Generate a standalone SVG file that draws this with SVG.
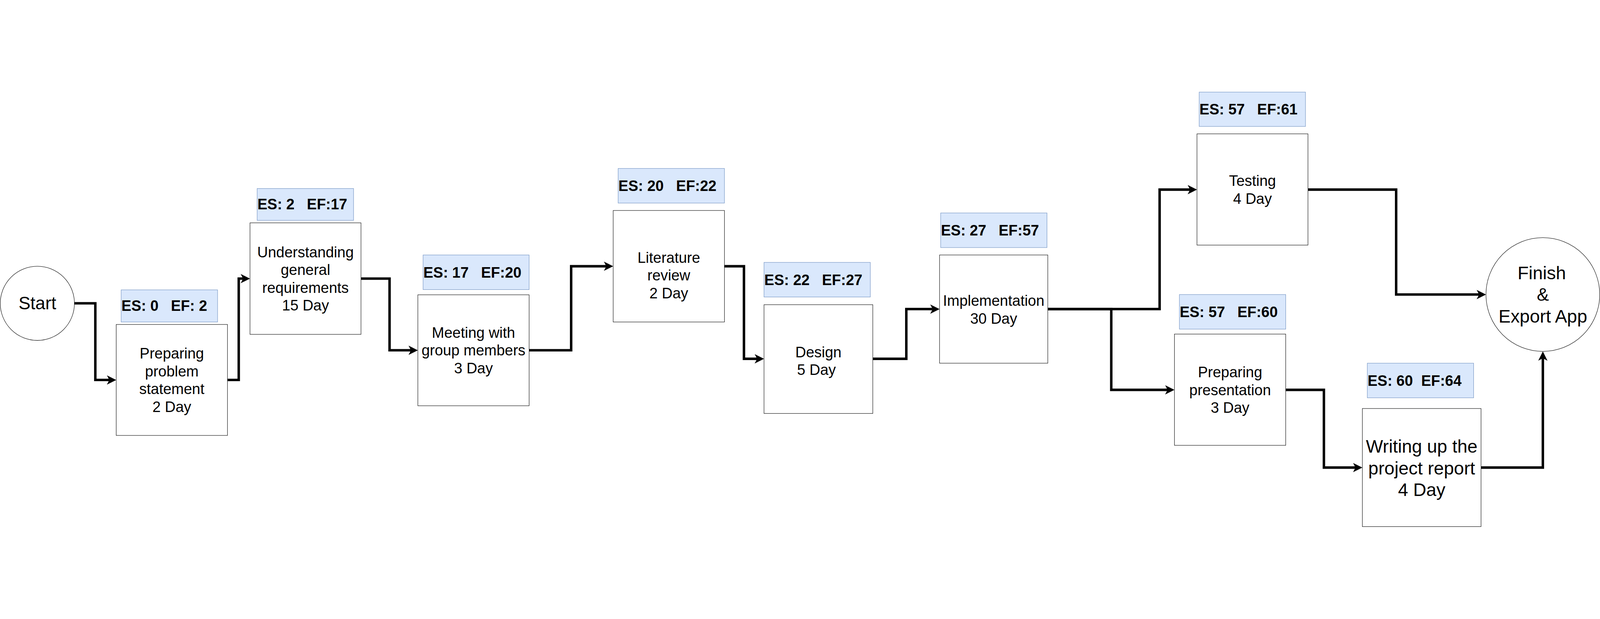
<svg xmlns="http://www.w3.org/2000/svg" width="5824" height="1585" viewBox="0 0 5824 1585" preserveAspectRatio="xMidYMid meet" style="width:100%;height:100%;max-width:5824px;max-height:1585px">
<style>
  .box { fill: #ffffff; stroke: #000000; stroke-width: 1.5; }
  .es { fill: #dae8fc; stroke: #6c8ebf; stroke-width: 1.5; }
  .t { font-family: "Liberation Sans", Arial, sans-serif; font-size: 54px; fill: #000000; text-anchor: middle; }
  .big { font-size: 66px; }
  .est { font-family: "Liberation Sans", Arial, sans-serif; font-size: 54px; font-weight: bold; fill: #000000; text-anchor: start; }
  .edge { fill: none; stroke: #000000; stroke-width: 9; stroke-linejoin: miter; stroke-linecap: butt; marker-end: url(#arr); }
</style>
<defs>
  <marker id="arr" markerUnits="userSpaceOnUse" markerWidth="36" markerHeight="36" viewBox="0 0 36 36" refX="9" refY="17" orient="auto">
    <path d="M 34 17 L 0 0 L 9 17 L 0 34 Z" fill="#000000"/>
  </marker>
</defs>
<rect x="0" y="0" width="5824" height="1585" fill="#ffffff"/>

<g id="connectors">
  <path class="edge" d="M 270 770 H 347 V 1049 H 398"/>
  <path class="edge" d="M 828 1049 H 869 V 680 H 885"/>
  <path class="edge" d="M 1314 680 H 1418 V 941 H 1496"/>
  <path class="edge" d="M 1926 941 H 2079 V 635 H 2207"/>
  <path class="edge" d="M 2637 635 H 2708 V 972 H 2756"/>
  <path class="edge" d="M 3177 972 H 3299 V 791 H 3395"/>
  <path class="edge" d="M 3814 791 H 4221 V 356 H 4332"/>
  <path class="edge" d="M 3814 791 H 4045 V 1085 H 4250"/>
  <path class="edge" d="M 4761 356 H 5082 V 738 H 5384"/>
  <path class="edge" d="M 4680 1085 H 4819 V 1368 H 4934"/>
  <path class="edge" d="M 5391 1368 H 5616 V 970"/>
</g>

<g id="start">
  <circle cx="136" cy="770" r="135" class="box"/>
  <text class="t big" x="136" y="792" style="font-size:65px">Start</text>
</g>

<g id="es1">
  <rect class="es" x="441" y="721" width="351" height="117"/>
  <text class="est" x="442" y="797" xml:space="preserve">ES: 0   EF: 2</text>
</g>
<g id="task1">
  <rect class="box" x="423" y="847" width="405" height="404"/>
  <text class="t" x="625.5" y="971">Preparing</text>
  <text class="t" x="625.5" y="1036">problem</text>
  <text class="t" x="625.5" y="1101">statement</text>
  <text class="t" x="625.5" y="1166">2 Day</text>
</g>

<g id="es2">
  <rect class="es" x="936" y="352" width="351" height="116"/>
  <text class="est" x="937" y="428" xml:space="preserve">ES: 2   EF:17</text>
</g>
<g id="task2">
  <rect class="box" x="910" y="477" width="404" height="406"/>
  <text class="t" x="1112" y="602">Understanding</text>
  <text class="t" x="1112" y="667">general</text>
  <text class="t" x="1112" y="732">requirements</text>
  <text class="t" x="1112" y="796">15 Day</text>
</g>

<g id="es3">
  <rect class="es" x="1540" y="594" width="386" height="126"/>
  <text class="est" x="1541" y="676" xml:space="preserve">ES: 17   EF:20</text>
</g>
<g id="task3">
  <rect class="box" x="1521" y="739" width="405" height="404"/>
  <text class="t" x="1723.5" y="895">Meeting with</text>
  <text class="t" x="1723.5" y="960">group members</text>
  <text class="t" x="1723.5" y="1025">3 Day</text>
</g>

<g id="es4">
  <rect class="es" x="2250" y="279" width="387" height="126"/>
  <text class="est" x="2251" y="361" xml:space="preserve">ES: 20   EF:22</text>
</g>
<g id="task4">
  <rect class="box" x="2232" y="432" width="405" height="406"/>
  <text class="t" x="2434.5" y="622">Literature</text>
  <text class="t" x="2434.5" y="687">review</text>
  <text class="t" x="2434.5" y="752">2 Day</text>
</g>

<g id="es5">
  <rect class="es" x="2781" y="621" width="387" height="126"/>
  <text class="est" x="2782" y="703" xml:space="preserve">ES: 22   EF:27</text>
</g>
<g id="task5">
  <rect class="box" x="2781" y="775" width="396" height="396"/>
  <text class="t" x="2979" y="966">Design</text>
  <text class="t" x="2972" y="1030">5 Day</text>
</g>

<g id="es6">
  <rect class="es" x="3424" y="441" width="387" height="126"/>
  <text class="est" x="3425" y="523" xml:space="preserve">ES: 27   EF:57</text>
</g>
<g id="task6">
  <rect class="box" x="3420" y="594" width="394" height="394"/>
  <text class="t" x="3617" y="779">Implementation</text>
  <text class="t" x="3617" y="844">30 Day</text>
</g>

<g id="es7">
  <rect class="es" x="4365" y="1" width="387" height="125"/>
  <text class="est" x="4366" y="82" xml:space="preserve">ES: 57   EF:61</text>
</g>
<g id="task7">
  <rect class="box" x="4357" y="153" width="404" height="405"/>
  <text class="t" x="4559" y="342">Testing</text>
  <text class="t" x="4559" y="408">4 Day</text>
</g>

<g id="es8">
  <rect class="es" x="4293" y="738" width="387" height="126"/>
  <text class="est" x="4294" y="820" xml:space="preserve">ES: 57   EF:60</text>
</g>
<g id="task8">
  <rect class="box" x="4275" y="882" width="405" height="405"/>
  <text class="t" x="4477.5" y="1039">Preparing</text>
  <text class="t" x="4477.5" y="1104">presentation</text>
  <text class="t" x="4477.5" y="1169">3 Day</text>
</g>

<g id="es9">
  <rect class="es" x="4977" y="988" width="387" height="126"/>
  <text class="est" x="4978" y="1070" xml:space="preserve">ES: 60  EF:64</text>
</g>
<g id="task9">
  <rect class="box" x="4959" y="1153" width="432" height="430"/>
  <text class="t big" x="5175" y="1314">Writing up the</text>
  <text class="t big" x="5175" y="1393">project report</text>
  <text class="t big" x="5175" y="1472">4 Day</text>
</g>

<g id="finish">
  <circle cx="5616" cy="738" r="207" class="box"/>
  <text class="t big" x="5612" y="683">Finish</text>
  <text class="t big" x="5616" y="761">&amp;</text>
  <text class="t big" x="5616" y="840">Export App</text>
</g>
</svg>
